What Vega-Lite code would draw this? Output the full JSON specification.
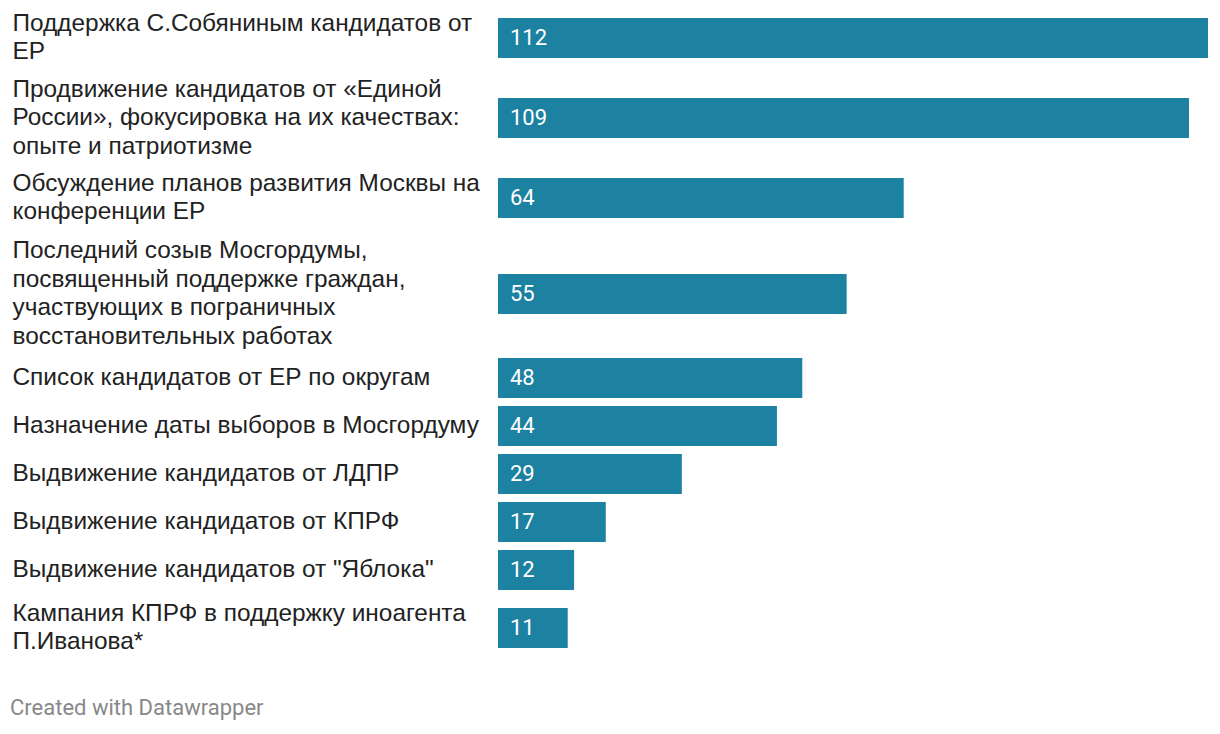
{
  "$schema": "https://vega.github.io/schema/vega-lite/v6.json",
  "background": "white",
  "padding": {"left": 10, "top": 2, "right": 12, "bottom": 14},
  "spacing": 0,
  "bounds": "flush",
  "resolve": {"scale": {"x": "shared"}},
  "config": {
    "font": "Roboto",
    "view": {"stroke": null},
    "axisY": {
      "title": null, "ticks": false, "domain": false, "grid": false,
      "labelAlign": "left", "labelPadding": 486, "labelLimit": 484,
      "labelFont": "Liberation Sans", "labelFontSize": 24.4, "labelColor": "#222222",
      "labelLineHeight": 28.5, "labelBaseline": "middle",
      "labelExpr": "split(datum.value, '|')"
    },
    "axisX": {"disable": true},
    "title": {"font": "Roboto", "fontSize": 22, "fontWeight": "normal", "color": "#888888"}
  },
  "title": {"text": "Created with Datawrapper", "orient": "bottom", "anchor": "start", "offset": 36, "frame": "bounds", "dx": -2},
  "data": {"values": [
    {"n": 1, "topic": "Поддержка С.Собяниным кандидатов от|ЕР", "value": 112},
    {"n": 2, "topic": "Продвижение кандидатов от «Единой|России», фокусировка на их качествах:|опыте и патриотизме", "value": 109},
    {"n": 3, "topic": "Обсуждение планов развития Москвы на|конференции ЕР", "value": 64},
    {"n": 4, "topic": "Последний созыв Мосгордумы,|посвященный поддержке граждан,|участвующих в пограничных|восстановительных работах", "value": 55},
    {"n": 5, "topic": "Список кандидатов от ЕР по округам", "value": 48},
    {"n": 6, "topic": "Назначение даты выборов в Мосгордуму", "value": 44},
    {"n": 7, "topic": "Выдвижение кандидатов от ЛДПР", "value": 29},
    {"n": 8, "topic": "Выдвижение кандидатов от КПРФ", "value": 17},
    {"n": 9, "topic": "Выдвижение кандидатов от \"Яблока\"", "value": 12},
    {"n": 10, "topic": "Кампания КПРФ в поддержку иноагента|П.Иванова*", "value": 11}
  ]},
  "vconcat": [
    {"height": 72, "width": 710, "transform": [{"filter": "datum.n == 1"}],
     "encoding": {"y": {"field": "topic", "type": "nominal", "axis": {"labelOffset": -14.25}}, "x": {"field": "value", "type": "quantitative", "scale": {"domain": [0, 112], "nice": false}}},
     "layer": [{"mark": {"type": "bar", "size": 40, "color": "#1d81a2"}}, {"mark": {"type": "text", "align": "left", "dx": 12, "fontSize": 22, "color": "white", "baseline": "middle"}, "encoding": {"x": {"datum": 0, "type": "quantitative"}, "text": {"field": "value"}}}]},
    {"height": 88, "width": 710, "transform": [{"filter": "datum.n == 2"}],
     "encoding": {"y": {"field": "topic", "type": "nominal", "axis": {"labelOffset": -28.5}}, "x": {"field": "value", "type": "quantitative", "scale": {"domain": [0, 112], "nice": false}}},
     "layer": [{"mark": {"type": "bar", "size": 40, "color": "#1d81a2"}}, {"mark": {"type": "text", "align": "left", "dx": 12, "fontSize": 22, "color": "white", "baseline": "middle"}, "encoding": {"x": {"datum": 0, "type": "quantitative"}, "text": {"field": "value"}}}]},
    {"height": 72, "width": 710, "transform": [{"filter": "datum.n == 3"}],
     "encoding": {"y": {"field": "topic", "type": "nominal", "axis": {"labelOffset": -14.25}}, "x": {"field": "value", "type": "quantitative", "scale": {"domain": [0, 112], "nice": false}}},
     "layer": [{"mark": {"type": "bar", "size": 40, "color": "#1d81a2"}}, {"mark": {"type": "text", "align": "left", "dx": 12, "fontSize": 22, "color": "white", "baseline": "middle"}, "encoding": {"x": {"datum": 0, "type": "quantitative"}, "text": {"field": "value"}}}]},
    {"height": 120, "width": 710, "transform": [{"filter": "datum.n == 4"}],
     "encoding": {"y": {"field": "topic", "type": "nominal", "axis": {"labelOffset": -42.75}}, "x": {"field": "value", "type": "quantitative", "scale": {"domain": [0, 112], "nice": false}}},
     "layer": [{"mark": {"type": "bar", "size": 40, "color": "#1d81a2"}}, {"mark": {"type": "text", "align": "left", "dx": 12, "fontSize": 22, "color": "white", "baseline": "middle"}, "encoding": {"x": {"datum": 0, "type": "quantitative"}, "text": {"field": "value"}}}]},
    {"height": 48, "width": 710, "transform": [{"filter": "datum.n == 5"}],
     "encoding": {"y": {"field": "topic", "type": "nominal", "axis": {}}, "x": {"field": "value", "type": "quantitative", "scale": {"domain": [0, 112], "nice": false}}},
     "layer": [{"mark": {"type": "bar", "size": 40, "color": "#1d81a2"}}, {"mark": {"type": "text", "align": "left", "dx": 12, "fontSize": 22, "color": "white", "baseline": "middle"}, "encoding": {"x": {"datum": 0, "type": "quantitative"}, "text": {"field": "value"}}}]},
    {"height": 48, "width": 710, "transform": [{"filter": "datum.n == 6"}],
     "encoding": {"y": {"field": "topic", "type": "nominal", "axis": {}}, "x": {"field": "value", "type": "quantitative", "scale": {"domain": [0, 112], "nice": false}}},
     "layer": [{"mark": {"type": "bar", "size": 40, "color": "#1d81a2"}}, {"mark": {"type": "text", "align": "left", "dx": 12, "fontSize": 22, "color": "white", "baseline": "middle"}, "encoding": {"x": {"datum": 0, "type": "quantitative"}, "text": {"field": "value"}}}]},
    {"height": 48, "width": 710, "transform": [{"filter": "datum.n == 7"}],
     "encoding": {"y": {"field": "topic", "type": "nominal", "axis": {}}, "x": {"field": "value", "type": "quantitative", "scale": {"domain": [0, 112], "nice": false}}},
     "layer": [{"mark": {"type": "bar", "size": 40, "color": "#1d81a2"}}, {"mark": {"type": "text", "align": "left", "dx": 12, "fontSize": 22, "color": "white", "baseline": "middle"}, "encoding": {"x": {"datum": 0, "type": "quantitative"}, "text": {"field": "value"}}}]},
    {"height": 48, "width": 710, "transform": [{"filter": "datum.n == 8"}],
     "encoding": {"y": {"field": "topic", "type": "nominal", "axis": {}}, "x": {"field": "value", "type": "quantitative", "scale": {"domain": [0, 112], "nice": false}}},
     "layer": [{"mark": {"type": "bar", "size": 40, "color": "#1d81a2"}}, {"mark": {"type": "text", "align": "left", "dx": 12, "fontSize": 22, "color": "white", "baseline": "middle"}, "encoding": {"x": {"datum": 0, "type": "quantitative"}, "text": {"field": "value"}}}]},
    {"height": 48, "width": 710, "transform": [{"filter": "datum.n == 9"}],
     "encoding": {"y": {"field": "topic", "type": "nominal", "axis": {}}, "x": {"field": "value", "type": "quantitative", "scale": {"domain": [0, 112], "nice": false}}},
     "layer": [{"mark": {"type": "bar", "size": 40, "color": "#1d81a2"}}, {"mark": {"type": "text", "align": "left", "dx": 12, "fontSize": 22, "color": "white", "baseline": "middle"}, "encoding": {"x": {"datum": 0, "type": "quantitative"}, "text": {"field": "value"}}}]},
    {"height": 68, "width": 710, "transform": [{"filter": "datum.n == 10"}],
     "encoding": {"y": {"field": "topic", "type": "nominal", "axis": {"labelOffset": -14.25}}, "x": {"field": "value", "type": "quantitative", "scale": {"domain": [0, 112], "nice": false}}},
     "layer": [{"mark": {"type": "bar", "size": 40, "color": "#1d81a2"}}, {"mark": {"type": "text", "align": "left", "dx": 12, "fontSize": 22, "color": "white", "baseline": "middle"}, "encoding": {"x": {"datum": 0, "type": "quantitative"}, "text": {"field": "value"}}}]}
  ]
}
